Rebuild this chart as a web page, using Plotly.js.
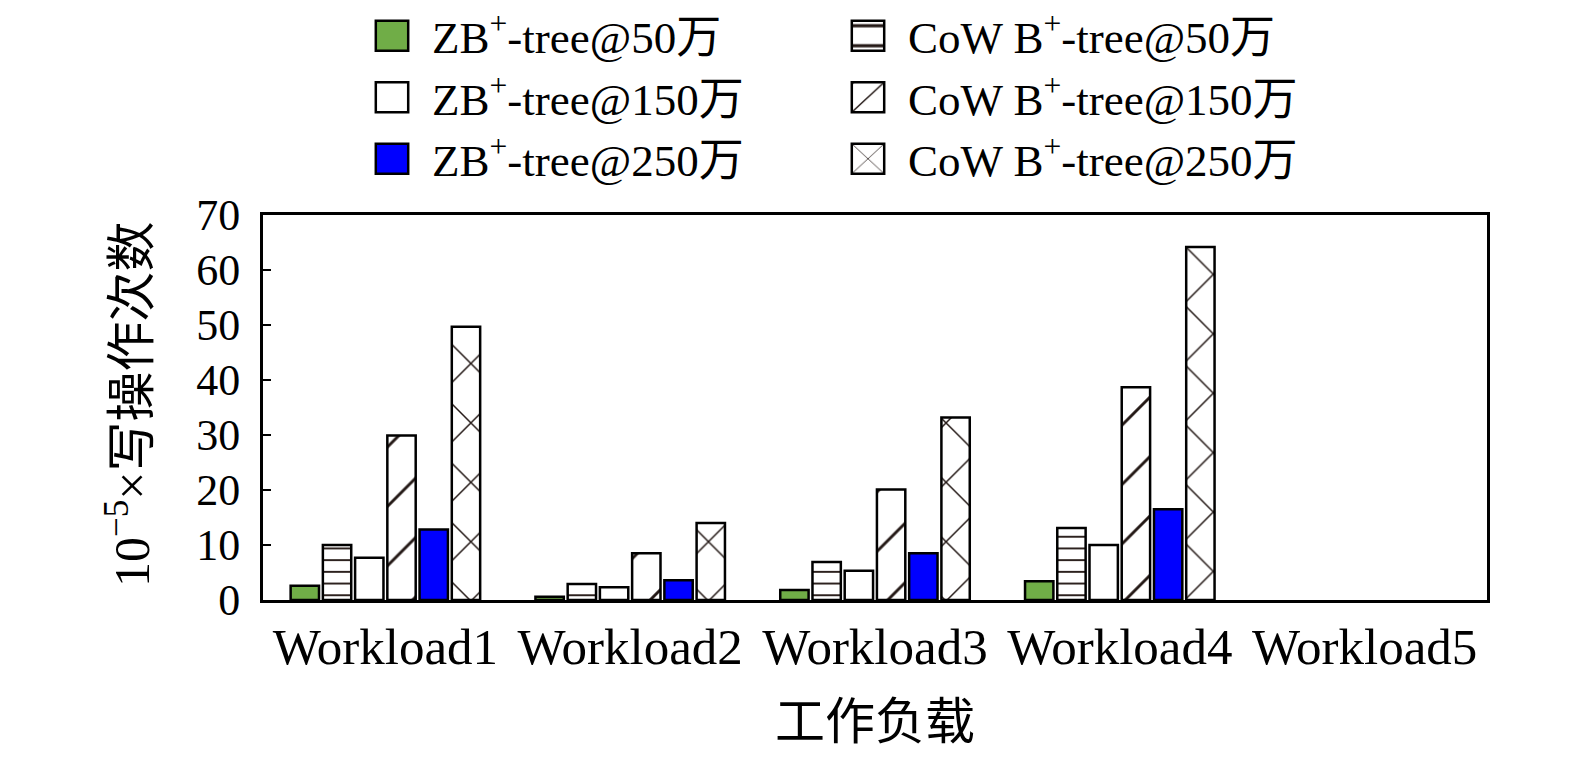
<!DOCTYPE html>
<html>
<head>
<meta charset="utf-8">
<script src="https://cdn.plot.ly/plotly-3.0.1.min.js"></script>
<style>html,body{margin:0;padding:0;background:#fff;}#chart{width:1575px;height:768px;}</style>
</head>
<body>
<div id="chart"></div>
<script>
const categories = ["Workload1", "Workload2", "Workload3", "Workload4", "Workload5"];
const zb50   = [2.6, 0.6, 1.8, 3.4, null];
const cow50  = [10.0, 2.9, 6.9, 13.1, null];
const zb150  = [7.7, 2.3, 5.3, 10.0, null];
const cow150 = [29.9, 8.5, 20.1, 38.7, null];
const zb250  = [12.8, 3.6, 8.5, 16.5, null];
const cow250 = [49.7, 14.0, 33.2, 64.2, null];
const seriesNames = [
  "ZB<sup>+</sup>-tree@50万", "CoW B<sup>+</sup>-tree@50万",
  "ZB<sup>+</sup>-tree@150万", "CoW B<sup>+</sup>-tree@150万",
  "ZB<sup>+</sup>-tree@250万", "CoW B<sup>+</sup>-tree@250万"
];
const yTickVals = [0, 10, 20, 30, 40, 50, 60, 70];
const xTitle = "工作负载";
const yTitle = "10<sup>−5</sup>×写操作次数";

const FONT = "'Liberation Serif', 'Times New Roman', 'Noto Sans CJK SC', serif";
const lineStyle = {color: "#000", width: 2.5};
function pat(shape, size, solidity) {
  return {shape: shape, fgcolor: "#231815", bgcolor: "#ffffff", size: size, solidity: solidity, fillmode: "replace"};
}
const traces = [
  {y: zb50, name: seriesNames[0], legend: "legend", marker: {color: "#70AD47", line: lineStyle}},
  {y: cow50, name: seriesNames[1], legend: "legend2", marker: {color: "#ffffff", line: lineStyle, pattern: pat("-", 11.7, 0.16)}},
  {y: zb150, name: seriesNames[2], legend: "legend", marker: {color: "#ffffff", line: lineStyle}},
  {y: cow150, name: seriesNames[3], legend: "legend2", marker: {color: "#ffffff", line: lineStyle, pattern: pat("/", 42, 0.07)}},
  {y: zb250, name: seriesNames[4], legend: "legend", marker: {color: "#0000FF", line: lineStyle}},
  {y: cow250, name: seriesNames[5], legend: "legend2", marker: {color: "#ffffff", line: lineStyle, pattern: pat("x", 42, 0.07)}}
].map(t => Object.assign({type: "bar", x: categories, hoverinfo: "none"}, t));

const legendCommon = {
  xref: "container", yref: "container", yanchor: "top", xanchor: "left",
  orientation: "v", font: {family: FONT, size: 45, color: "#000"},
  bgcolor: "rgba(0,0,0,0)", borderwidth: 0, itemwidth: 70, traceorder: "normal"
};

const PLOT_L = 263, PLOT_R = 1575 - 88, PLOT_T = 215, PLOT_B = 600;
const px2paperX = px => (px - PLOT_L) / (PLOT_R - PLOT_L);
const px2paperY = py => (PLOT_B - py) / (PLOT_B - PLOT_T);

const layout = {
  width: 1575, height: 768,
  margin: {l: PLOT_L, r: 1575 - PLOT_R, t: PLOT_T, b: 768 - PLOT_B, autoexpand: false},
  paper_bgcolor: "#fff", plot_bgcolor: "#fff",
  font: {family: FONT, color: "#000"},
  barmode: "group", bargap: 0.21, bargroupgap: 0.12,
  showlegend: true,
  legend: Object.assign({}, legendCommon, {x: 352 / 1575, y: 1 + 11 / 768}),
  legend2: Object.assign({}, legendCommon, {x: 828 / 1575, y: 1 + 11 / 768}),
  xaxis: {
    type: "category", showline: true, mirror: true, linecolor: "#000", linewidth: 3,
    ticks: "", showgrid: false, zeroline: false, automargin: false,
    tickfont: {family: FONT, size: 51, color: "#000"}
  },
  yaxis: {
    range: [0, 70], tickvals: yTickVals, ticks: "inside", ticklen: 8, tickwidth: 2.5, tickcolor: "#000",
    showline: true, mirror: true, linecolor: "#000", linewidth: 3,
    showgrid: false, zeroline: false, automargin: false, ticklabelstandoff: 11,
    tickfont: {family: FONT, size: 44, color: "#000"}
  },
  annotations: [
    {text: xTitle, xref: "paper", x: 0.5, yref: "paper", y: px2paperY(722),
     xanchor: "center", yanchor: "middle", showarrow: false,
     font: {family: FONT, size: 50, color: "#000"}},
    {text: yTitle, xref: "paper", x: px2paperX(128), yref: "paper", y: px2paperY(405), textangle: -90,
     xanchor: "center", yanchor: "middle", showarrow: false,
     font: {family: FONT, size: 50, color: "#000"}}
  ]
};

Plotly.newPlot("chart", traces, layout, {staticPlot: true}).then(() => {
  document.querySelectorAll(".legendpoints path").forEach(p => {
    const t = p.getAttribute("transform") || "";
    p.setAttribute("transform", t + " scale(2.7,2.5)");
    p.style.vectorEffect = "non-scaling-stroke";
  });
});
</script>
</body>
</html>
